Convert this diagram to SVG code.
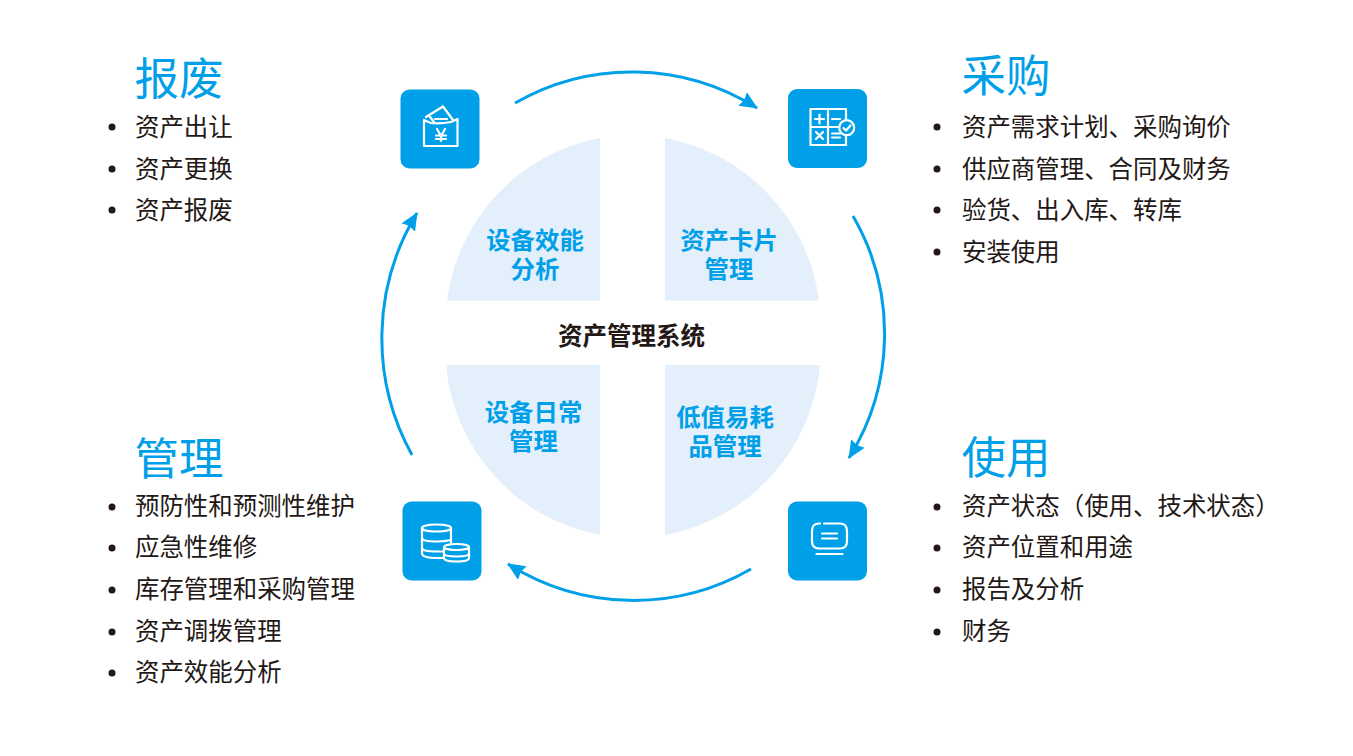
<svg xmlns="http://www.w3.org/2000/svg" width="1353" height="756" viewBox="0 0 1353 756">
<defs>
<marker id="ah" markerUnits="userSpaceOnUse" markerWidth="20" markerHeight="18" refX="17" refY="8" orient="auto"><path d="M0 0L18 8L0 16L2 8Z" fill="#00a0e9"/></marker>
</defs>
<style>
text{font-family:"Noto Sans CJK SC","Noto Sans",sans-serif}
.h{font-size:44.500px;fill:#00a0e9}
.l{font-size:24.450px;fill:#231815}
.c{font-size:24.400px;font-weight:700;fill:#00a0e9;text-anchor:middle}
.m{font-size:24.500px;font-weight:700;fill:#231815;text-anchor:middle}
.d{fill:#231815}
.q{fill:#e4effc}
.b{fill:#00a0e9}
.i{fill:none;stroke:#fff;stroke-width:2.200;stroke-linejoin:round;stroke-linecap:round}
.f{fill:#00a0e9;stroke:#fff;stroke-width:2.200;stroke-linejoin:round}
.a{fill:none;stroke:#00a0e9;stroke-width:3}
</style>
<rect width="1353" height="756" fill="#fff"/>
<g id="hub">
<path class="q" d="M600 138V300.500H447A190 190 0 0 1 600 138Z"/>
<path class="q" d="M665 138V300.500H819A190 190 0 0 0 665 138Z"/>
<path class="q" d="M600 535V365H446A190 190 0 0 0 600 535Z"/>
<path class="q" d="M665 535V365H820A190 190 0 0 1 665 535Z"/>
<text class="c"><tspan x="535" y="249">设备效能</tspan><tspan x="535" y="278">分析</tspan></text>
<text class="c"><tspan x="729" y="249">资产卡片</tspan><tspan x="729" y="278">管理</tspan></text>
<text class="c"><tspan x="533.500" y="421">设备日常</tspan><tspan x="533.500" y="450">管理</tspan></text>
<text class="c"><tspan x="725" y="426">低值易耗</tspan><tspan x="725" y="455">品管理</tspan></text>
<text class="m" x="631.500" y="345">资产管理系统</text>
</g>
<g id="connectors">
<path class="a" marker-end="url(#ah)" d="M515 103A235 235 0 0 1 757 108"/>
<path class="a" marker-end="url(#ah)" d="M853 216A235 235 0 0 1 849 458"/>
<path class="a" marker-end="url(#ah)" d="M751 569A235 235 0 0 1 508 564"/>
<path class="a" marker-end="url(#ah)" d="M412 455A241 241 0 0 1 417 213"/>
</g>
<g id="icon-scrap">
<rect class="b" x="400.500" y="89.500" width="79" height="79" rx="9"/>
<path class="i" d="M426 117L443 106.500L453 120M430 117L434 122"/>
<path class="i" d="M424 120V146H457.500V119L451 122Q440 124 431 123Q428 122 424 120Z"/>
<path class="i" d="M435 119H447"/>
<path class="i" d="M437 129L441 136L445 129M441 136V141M436 135.500H446M436 139H446"/>
</g>
<g id="icon-buy">
<rect class="b" x="788" y="89" width="79" height="79" rx="9"/>
<path class="i" d="M810.500 109H846V145H810.500ZM810.500 127H846M828 109V145M815 119H824M819.500 114.500V123.500M832 119H840M816 132L823 139M823 132L816 139M832 133.500H840M832 137.500H840"/>
<circle class="f" cx="846.700" cy="127.700" r="7.500"/><path class="i" d="M843.500 128L846 130.500L850.500 125.500"/>
</g>
<g id="icon-use">
<rect class="b" x="788" y="501.500" width="79" height="79" rx="9"/>
<path class="i" d="M820 523.500H819Q812 523.500 812 531V541Q812 548.500 819 548.500H840Q847 548.500 847 541V531Q847 523.500 840 523.500H824M822 533.500H837M822 538.500H837M816.500 554H842.500"/>
</g>
<g id="icon-manage">
<rect class="b" x="402.500" y="501.500" width="79" height="79" rx="9"/>
<path class="i" d="M422 528V553Q422 558 437 558H443M451 528V544M422 528A14.500 3.500 0 0 1 451 528A14.500 3.500 0 0 1 422 528M422 538Q422 541.500 437 541.500Q444 541.500 451 540M422 548Q422 551.500 437 551.500H443"/>
<path class="i" d="M444 547V558Q444 561.500 456.500 561.500Q469 561.500 469 558V547M444 547A12.500 3 0 0 1 469 547A12.500 3 0 0 1 444 547M444 553.500Q444 556.500 456.500 556.500Q469 556.500 469 553.500"/>
</g>
<g id="scrap">
<text class="h" x="134.500" y="95">报废</text>
<text class="l" x="135" y="136">资产出让</text><text class="l" x="135" y="178">资产更换</text><text class="l" x="135" y="219">资产报废</text>
<circle class="d" cx="112" cy="127" r="3.500"/><circle class="d" cx="112" cy="169" r="3.500"/><circle class="d" cx="112" cy="210" r="3.500"/>
</g>
<g id="buy">
<text class="h" x="961.500" y="92">采购</text>
<text class="l" x="962" y="136">资产需求计划、采购询价</text><text class="l" x="962" y="178">供应商管理、合同及财务</text><text class="l" x="962" y="219">验货、出入库、转库</text><text class="l" x="962" y="261">安装使用</text>
<circle class="d" cx="937" cy="127" r="3.500"/><circle class="d" cx="937" cy="169" r="3.500"/><circle class="d" cx="937" cy="210" r="3.500"/><circle class="d" cx="937" cy="252" r="3.500"/>
</g>
<g id="manage">
<text class="h" x="134.500" y="475">管理</text>
<text class="l" x="135" y="515">预防性和预测性维护</text><text class="l" x="135" y="556">应急性维修</text><text class="l" x="135" y="598">库存管理和采购管理</text><text class="l" x="135" y="640">资产调拨管理</text><text class="l" x="135" y="681">资产效能分析</text>
<circle class="d" cx="112" cy="507" r="3.500"/><circle class="d" cx="112" cy="548" r="3.500"/><circle class="d" cx="112" cy="590" r="3.500"/><circle class="d" cx="112" cy="632" r="3.500"/><circle class="d" cx="112" cy="673" r="3.500"/>
</g>
<g id="use">
<text class="h" x="961.500" y="474">使用</text>
<text class="l" x="962" y="515">资产状态（使用、技术状态）</text><text class="l" x="962" y="556">资产位置和用途</text><text class="l" x="962" y="598">报告及分析</text><text class="l" x="962" y="640">财务</text>
<circle class="d" cx="937" cy="507" r="3.500"/><circle class="d" cx="937" cy="548" r="3.500"/><circle class="d" cx="937" cy="590" r="3.500"/><circle class="d" cx="937" cy="632" r="3.500"/>
</g>
</svg>
